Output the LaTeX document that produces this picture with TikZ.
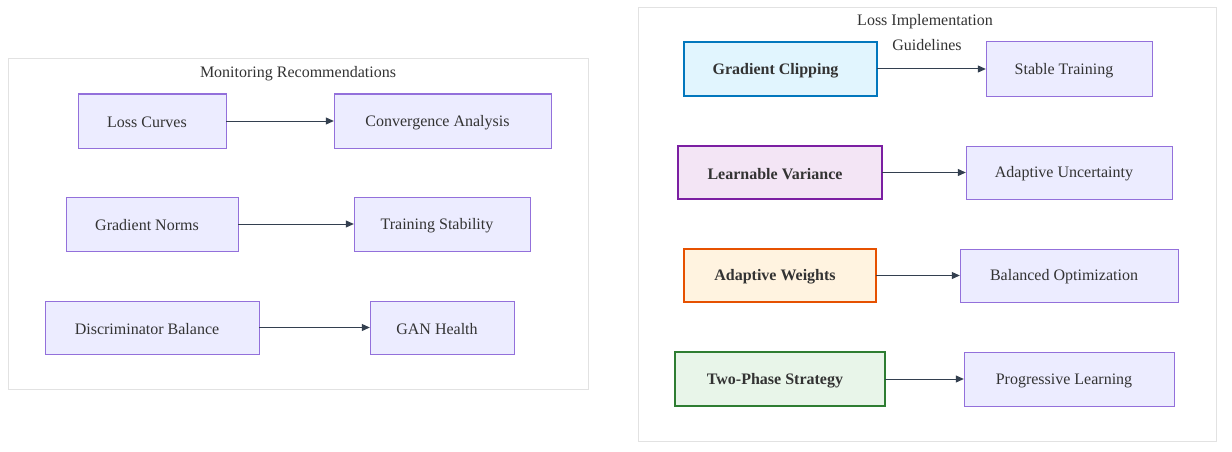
\documentclass[tikz,border=0pt]{standalone}
\usepackage{fontspec}
\setmainfont{Liberation Serif}
\usetikzlibrary{arrows.meta}
\definecolor{nfill}{HTML}{ECECFF}
\definecolor{nstroke}{HTML}{9370DB}
\definecolor{txt}{HTML}{333333}
\definecolor{edge}{HTML}{333F4F}
\definecolor{cl}{HTML}{E2E2E2}
\definecolor{bfill}{HTML}{E1F5FE}\definecolor{bstroke}{HTML}{0277BD}
\definecolor{pfill}{HTML}{F3E5F5}\definecolor{pstroke}{HTML}{7B1FA2}
\definecolor{ofill}{HTML}{FFF3E0}\definecolor{ostroke}{HTML}{E65100}
\definecolor{gfill}{HTML}{E8F5E9}\definecolor{gstroke}{HTML}{2E7D32}
\newcommand{\mybox}[6]{%
  \path[#6] (#2,#3) rectangle (#4,#5);
  \node[minimum width={#4-#2}, minimum height={#5-#3}] (#1) at ({(#2+#4)/2},{(#3+#5)/2}) {};}
\begin{document}
\begin{tikzpicture}[x=1pt,y=-1pt,
  every node/.style={font=\fontsize{16}{19}\selectfont, text=txt, inner sep=0pt},
  box/.style={draw=nstroke, fill=nfill, line width=1pt},
  lbl/.style={xshift=-5pt, yshift=-1.5pt},
  bold/.style={lbl, font=\fontsize{16}{19}\selectfont\bfseries},
  cluster/.style={draw=cl, fill=white, line width=1pt},
  arr/.style={draw=edge, line width=1pt, -{Triangle[length=8pt,width=7pt]}}]
\useasboundingbox (0,0) rectangle (1232,452);
% clusters
\draw[cluster] (8,59) rectangle (588,389);
\node (t1) at (298,74) {Monitoring Recommendations};
\draw[cluster] (638,8) rectangle (1216,441);
\node (t2a) at (925,22) {Loss Implementation};
\node (t2b) at (927,45) {Guidelines};
% left
\mybox{lc}{78}{94}{226}{148}{box}\node[lbl] at (lc) {Loss Curves};
\mybox{ca}{334}{94}{551}{148}{box}\node[lbl] at (ca) {Convergence Analysis};
\mybox{gn}{66}{197}{238}{251}{box}\node[lbl] at (gn) {Gradient Norms};
\mybox{ts}{354}{197}{530}{251}{box}\node[lbl] at (ts) {Training Stability};
\mybox{db}{45}{301}{259}{354}{box}\node[lbl] at (db) {Discriminator Balance};
\mybox{gh}{370}{301}{514}{354}{box}\node[lbl] at (gh) {GAN Health};
% right
\mybox{gc}{684}{42}{877}{96}{draw=bstroke,fill=bfill,line width=2pt}\node[bold] at (gc) {Gradient Clipping};
\mybox{st}{986}{42}{1152}{96}{box}\node[lbl] at (st) {Stable Training};
\mybox{lv}{678}{146}{882}{199}{draw=pstroke,fill=pfill,line width=2pt}\node[bold] at (lv) {Learnable Variance};
\mybox{au}{966}{146}{1172}{199}{box}\node[lbl] at (au) {Adaptive Uncertainty};
\mybox{aw}{684}{249}{876}{302}{draw=ostroke,fill=ofill,line width=2pt}\node[bold] at (aw) {Adaptive Weights};
\mybox{bo}{960}{249}{1178}{302}{box}\node[lbl] at (bo) {Balanced Optimization};
\mybox{tp}{675}{352}{885}{406}{draw=gstroke,fill=gfill,line width=2pt}\node[bold] at (tp) {Two-Phase Strategy};
\mybox{pl}{964}{352}{1174}{406}{box}\node[lbl] at (pl) {Progressive Learning};
% edges
\draw[arr] (lc.east) -- (ca.west);
\draw[arr] (gn.east) -- (ts.west);
\draw[arr] (db.east) -- (gh.west);
\draw[arr] (gc.east) -- (st.west);
\draw[arr] (lv.east) -- (au.west);
\draw[arr] (aw.east) -- (bo.west);
\draw[arr] (tp.east) -- (pl.west);
\end{tikzpicture}
\end{document}
